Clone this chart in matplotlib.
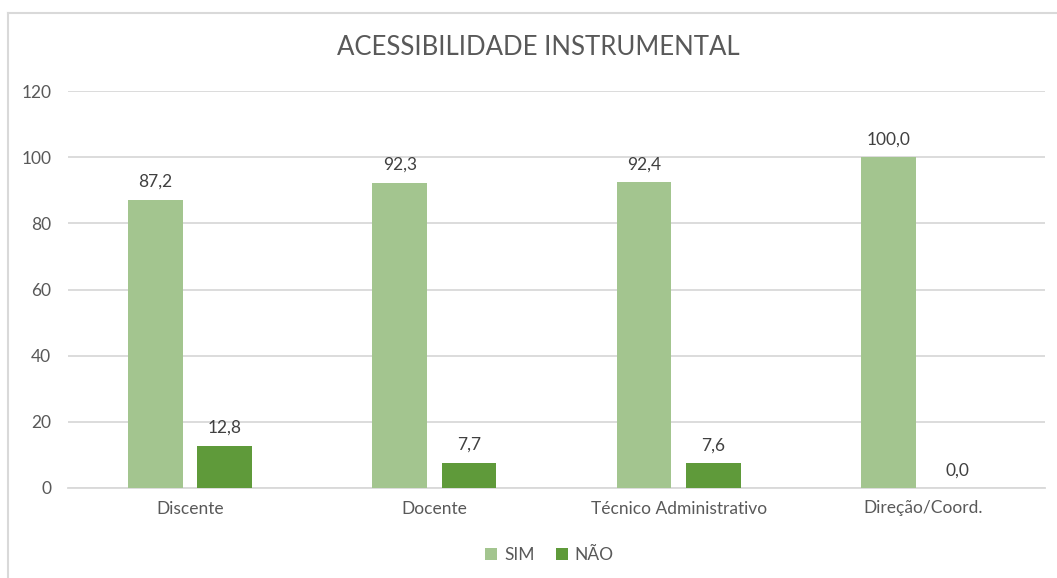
import numpy as np
import matplotlib
matplotlib.use('Agg')
import matplotlib.pyplot as plt
from matplotlib.lines import Line2D

categorias = ['Discente', 'Docente', 'Técnico Administrativo', 'Direção/Coord.']
sim = [87.2, 92.3, 92.4, 100.0]
nao = [12.8, 7.7, 7.6, 0.0]
yticks = [0, 20, 40, 60, 80, 100, 120]

plt.rcParams['font.family'] = ['Lato', 'DejaVu Sans']
TXT = '#595959'
GRID = '#d9d9d9'

fig = plt.figure(figsize=(10.57, 5.78), dpi=100)
# plot area in pixels: x 68..1045, y 91..488
ax = fig.add_axes([68 / 1057, 1 - 488 / 578, 977 / 1057, 397 / 578])

x = np.arange(len(categorias))
w = 0.224
off = 0.142
b1 = ax.bar(x - off, sim, w, color='#a3c58f', label='SIM', zorder=3)
b2 = ax.bar(x + off, nao, w, color='#5f9a3a', label='NÃO', zorder=3)

for bars, vals in ((b1, sim), (b2, nao)):
    for r, v in zip(bars, vals):
        ax.annotate(f'{v:.1f}'.replace('.', ','), (r.get_x() + r.get_width() / 2, v),
                    xytext=(0, 7), textcoords='offset points', ha='center', va='bottom',
                    fontsize=12.5, color='#404040')

ax.set_xlim(-0.5, len(categorias) - 0.5)
ax.set_ylim(0, 120)
ax.set_yticks(yticks)
ax.set_xticks(x)
ax.set_xticklabels(categorias)
ax.yaxis.grid(True, color=GRID, linewidth=1.3, zorder=0)
for s in ['top', 'right', 'left']:
    ax.spines[s].set_visible(False)
ax.spines['bottom'].set_color(GRID)
ax.spines['bottom'].set_linewidth(1.3)
ax.tick_params(axis='both', length=0, colors=TXT, labelsize=12.5)
ax.tick_params(axis='y', pad=12)
ax.tick_params(axis='x', pad=9)

fig.text(0.509, 0.918, 'ACESSIBILIDADE INSTRUMENTAL', ha='center', va='center',
         fontsize=18.5, color=TXT)

leg = fig.legend(loc='center', bbox_to_anchor=(0.52, 0.04), ncol=2, frameon=False,
                 fontsize=12.5, handlelength=0.7, handleheight=0.7, handletextpad=0.4,
                 columnspacing=1.2, labelcolor=TXT)

# chart frame: only left and top edges are visible in the crop
fig.lines.append(Line2D([7.5 / 1057, 7.5 / 1057], [0, 1 - 12.5 / 578], transform=fig.transFigure,
                        color=GRID, linewidth=1.5))
fig.lines.append(Line2D([7.5 / 1057, 1], [1 - 12.5 / 578, 1 - 12.5 / 578], transform=fig.transFigure,
                        color=GRID, linewidth=1.5))

fig.savefig('out.png', dpi=100)
